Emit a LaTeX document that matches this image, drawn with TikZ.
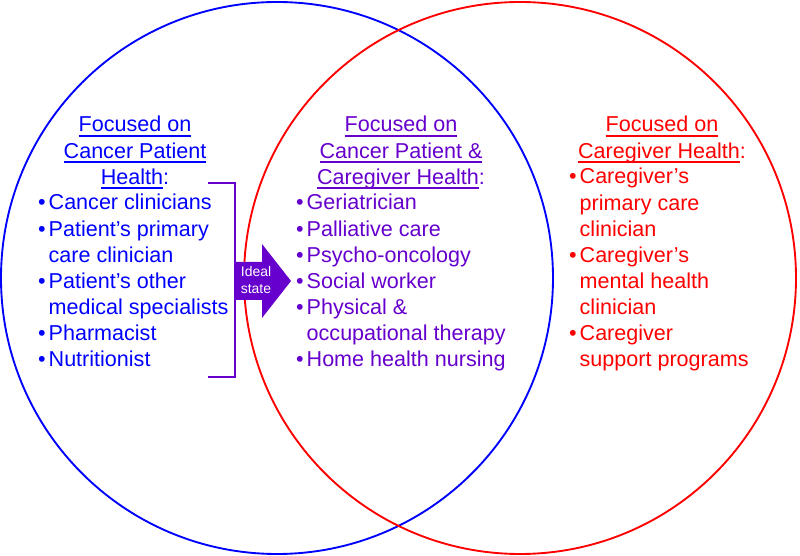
\documentclass[tikz,border=0pt]{standalone}
\usepackage{fontspec}
\setmainfont{Liberation Sans}
\usepackage{tikz}

\definecolor{patblue}{RGB}{0,0,255}
\definecolor{carered}{RGB}{255,0,0}
\definecolor{bothpurple}{RGB}{102,0,204}
\newcommand{\ulin}[1]{\setbox0\hbox{#1}\rlap{\rule[-4pt]{\wd0}{1.2pt}}\box0}

\begin{document}
\begin{tikzpicture}[x=0.03cm,y=0.03cm,
    headtext/.style={anchor=base,inner sep=0pt,font=\fontsize{18.4}{22.2}\selectfont},
    listtext/.style={anchor=base west,inner sep=0pt,font=\fontsize{18.4}{22.2}\selectfont}]
    \useasboundingbox (0,0) rectangle (800,556);
    \draw[patblue,line width=1.6pt] (277,278) circle (276);
    \draw[carered,line width=1.6pt] (520,278) circle (276);
    % patient side
    \node[headtext,text=patblue] (lefthead) at (135,424)
      {\begin{tabular}[t]{@{}c@{}}\ulin{Focused on}\\ \ulin{Cancer Patient}\\ \ulin{Health}:\end{tabular}};
    \node[listtext,text=patblue] (leftlist) at (38,346)
      {\begin{tabular}[t]{@{}l@{\hspace{2.5pt}}l@{}}
        \textbullet & Cancer clinicians\\
        \textbullet & Patient’s primary\\
                    & care clinician\\
        \textbullet & Patient’s other\\
                    & medical specialists\\
        \textbullet & Pharmacist\\
        \textbullet & Nutritionist
      \end{tabular}};
    % overlap
    \node[headtext,text=bothpurple] (midhead) at (401,424)
      {\begin{tabular}[t]{@{}c@{}}\ulin{Focused on}\\ \ulin{Cancer Patient \&}\\ \ulin{Caregiver Health}:\end{tabular}};
    \node[listtext,text=bothpurple] (midlist) at (296,346)
      {\begin{tabular}[t]{@{}l@{\hspace{2.5pt}}l@{}}
        \textbullet & Geriatrician\\
        \textbullet & Palliative care\\
        \textbullet & Psycho-oncology\\
        \textbullet & Social worker\\
        \textbullet & Physical \&\\
                    & occupational therapy\\
        \textbullet & Home health nursing
      \end{tabular}};
    % caregiver side
    \node[headtext,text=carered] (righthead) at (662,424)
      {\begin{tabular}[t]{@{}c@{}}\ulin{Focused on}\\ \ulin{Caregiver Health}:\end{tabular}};
    \node[listtext,text=carered] (rightlist) at (569,372)
      {\begin{tabular}[t]{@{}l@{\hspace{2.5pt}}l@{}}
        \textbullet & Caregiver’s\\
                    & primary care\\
                    & clinician\\
        \textbullet & Caregiver’s\\
                    & mental health\\
                    & clinician\\
        \textbullet & Caregiver\\
                    & support programs
      \end{tabular}};
    % bracket and arrow
    \draw[bothpurple,line width=1.6pt] (208,373) -| (235,179) -- (208,179);
    \fill[bothpurple] (235,294) -- (262,294) -- (262,312) -- (291,275)
      -- (262,238) -- (262,256) -- (235,256) -- cycle;
    \node[anchor=base,inner sep=0pt,text=white,font=\fontsize{11.9}{14.5}\selectfont] (ideal) at (256,279)
      {\begin{tabular}[t]{@{}c@{}}Ideal\\ state\end{tabular}};
\end{tikzpicture}
\end{document}
